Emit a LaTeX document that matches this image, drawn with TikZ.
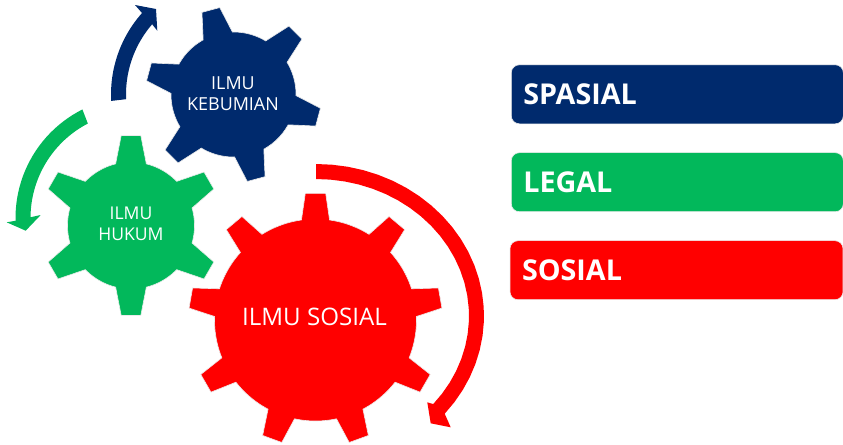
\documentclass[tikz,border=0pt]{standalone}
\usepackage{fontspec}
\setmainfont{Open Sans}
\usepackage{tikz}
\definecolor{navygear}{HTML}{002A6D}
\definecolor{greengear}{HTML}{02B85B}
\definecolor{redgear}{HTML}{FF0000}
\tikzset{
  gearedge/.style={draw=black!8,line width=.5pt},
  gearlabel/.style={text=white,align=center,inner sep=0pt},
  legendbox/.style={rounded corners=.24cm,anchor=west,text=white,minimum height=1.77cm,
    inner xsep=.36cm,inner ysep=0pt,text width=9.24cm,align=left,gearedge,
    font=\fontsize{24.5}{26}\selectfont\bfseries},
}
% centre x, centre y, body radius, tip radius, teeth, first tooth angle, half tip angle, half base angle, colour
\newcommand{\drawgear}[9]{
  \fill[#9,gearedge] ({#1+#3*cos(#6-#8)},{#2-#3*sin(#6-#8)})
    \foreach \k [evaluate=\k as \a using {#6+(\k-1)*360/#5},
                 evaluate=\k as \astart using {#6+(\k-1)*360/#5+#8},
                 evaluate=\k as \aend using {#6+\k*360/#5-#8}] in {1,...,#5} {
      -- ({#1+#4*cos(\a-#7)},{#2-#4*sin(\a-#7)})
      -- ({#1+#4*cos(\a+#7)},{#2-#4*sin(\a+#7)})
      -- plot[domain=\astart:\aend,samples=12] ({#1+#3*cos(\x)},{#2-#3*sin(\x)})
    } -- cycle;
}
\begin{document}
\begin{tikzpicture}[x=.03cm,y=-.03cm]
  \useasboundingbox (0,0) rectangle (843,444);
  % gears
  \drawgear{233.5}{94.5}{62.5}{88}{6}{105}{6}{14}{navygear}
  \drawgear{131}{225.5}{63.5}{90.5}{6}{90}{6.2}{14}{greengear}
  \drawgear{315.5}{320}{101}{127}{9}{90}{4.6}{8}{redgear}
  \node[gearlabel,font=\fontsize{15.3}{18}\selectfont] (kebumian) at (233,94) {ILMU\\KEBUMIAN};
  \node[gearlabel,font=\fontsize{15}{18}\selectfont] (hukum) at (131,224) {ILMU\\HUKUM};
  \node[gearlabel,font=\fontsize{20.6}{24}\selectfont] (sosial) at (314.5,317) {ILMU SOSIAL};
  % curved arrows
  \fill[navygear] plot[domain=183:138.3] ({233.5+122.5*cos(\x)},{94.5-122.5*sin(\x)})
    -- (135,5) -- (156,9) -- (157.3,30.7)
    -- plot[domain=139.2:182.5] ({233.5+107.5*cos(\x)},{94.5-107.5*sin(\x)}) -- cycle;
  \fill[greengear] plot[domain=116.7:181.3] ({137+121.5*cos(\x)},{218-121.5*sin(\x)})
    -- (6.7,222.3) -- (25.7,230.7) -- (40.7,215)
    -- plot[domain=179.6:117.5] ({137+106.5*cos(\x)},{218-106.5*sin(\x)}) -- cycle;
  \fill[redgear] plot[domain=90:-40] ({316+168*cos(\x)},{316-152*sin(\x)})
    -- (450.7,427.3) -- (430.7,423.3) -- (427.3,402.3)
    -- plot[domain=-40:90] ({316+153*cos(\x)},{316-137*sin(\x)}) -- cycle;
  % legend
  \node[legendbox,fill=navygear] (spasial) at (511,94.3) {SPASIAL};
  \node[legendbox,fill=greengear] (legal) at (511,182.2) {LEGAL};
  \node[legendbox,fill=redgear,text width=9.27cm] (sosialbox) at (509.7,270.2) {SOSIAL};
\end{tikzpicture}
\end{document}
